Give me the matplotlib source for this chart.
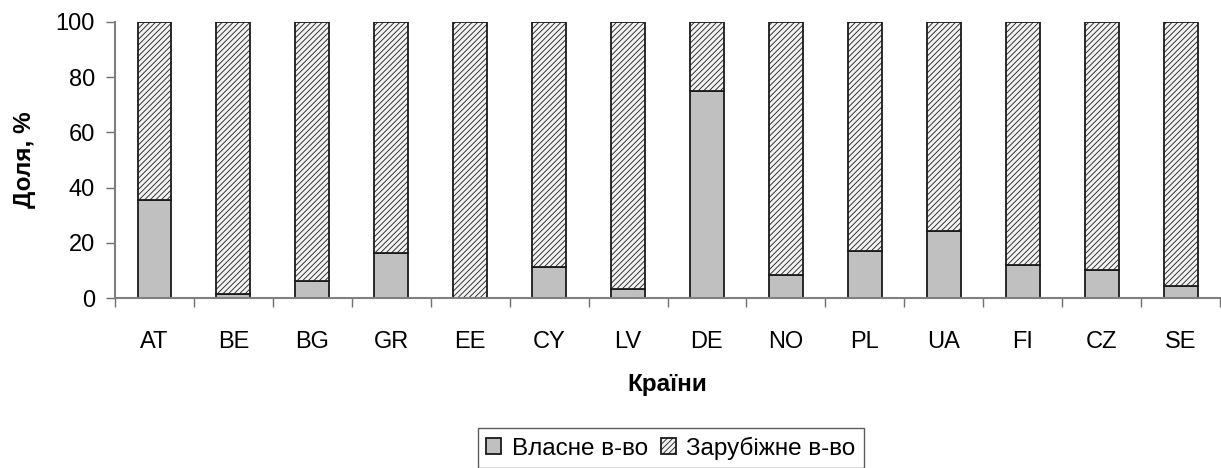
import numpy as np
import matplotlib.pyplot as plt

plt.rcParams['font.family'] = ['Liberation Sans', 'DejaVu Sans']
plt.rcParams['hatch.linewidth'] = 0.6
plt.rcParams['hatch.color'] = '#8c8c8c'

countries = ['AT', 'BE', 'BG', 'GR', 'EE', 'CY', 'LV', 'DE', 'NO', 'PL', 'UA', 'FI', 'CZ', 'SE']
own = [35.5, 1.4, 6.1, 16.4, 0.0, 11.2, 3.2, 75.0, 8.2, 17.0, 24.4, 11.9, 10.1, 4.3]
foreign = [100 - v for v in own]

fig = plt.figure(figsize=(12.21, 4.68), dpi=100)
ax = fig.add_axes([0.0942, 0.3632, 0.905, 0.590])

x = np.arange(len(countries))
w = 0.43
ax.bar(x, own, w, color='#c0c0c0', edgecolor='#1a1a1a', linewidth=1.3, label='Власне в-во')
ax.bar(x, foreign, w, bottom=own, color='#f2f2f2', edgecolor='#1a1a1a', linewidth=1.3,
       hatch='//////', label='Зарубіжне в-во')

ax.set_xlim(-0.5, len(countries) - 0.5)
ax.set_ylim(0, 100)
ax.set_yticks(range(0, 101, 20))
ax.set_xticks(x)
ax.set_xticklabels(countries)
ax.set_xticks(np.arange(-0.5, len(countries), 1), minor=True)
ax.tick_params(axis='x', which='major', length=0, pad=24, labelsize=17)
ax.tick_params(axis='x', which='minor', length=6.5, width=1.0, direction='out', color='#707070')
ax.tick_params(axis='y', length=6.5, width=1.0, direction='out', labelsize=17,
               color='#707070', pad=8)
for s in ['top', 'right']:
    ax.spines[s].set_visible(False)
for s in ['left', 'bottom']:
    ax.spines[s].set_color('#808080')
    ax.spines[s].set_linewidth(1.5)

ax.set_ylabel('Доля, %', fontsize=17.5, fontweight='bold', labelpad=14)
ax.set_xlabel('Країни', fontsize=17.5, fontweight='bold', labelpad=14)

leg = fig.legend(loc='center', bbox_to_anchor=(0.5496, 0.042), ncol=2, fontsize=17.5,
                 frameon=True, fancybox=False, edgecolor='#333333',
                 handlelength=0.62, handleheight=0.62, handletextpad=0.42,
                 columnspacing=0.55, borderpad=0.35, borderaxespad=0)
leg.get_frame().set_linewidth(1.0)

fig.savefig('out.png', dpi=100)
